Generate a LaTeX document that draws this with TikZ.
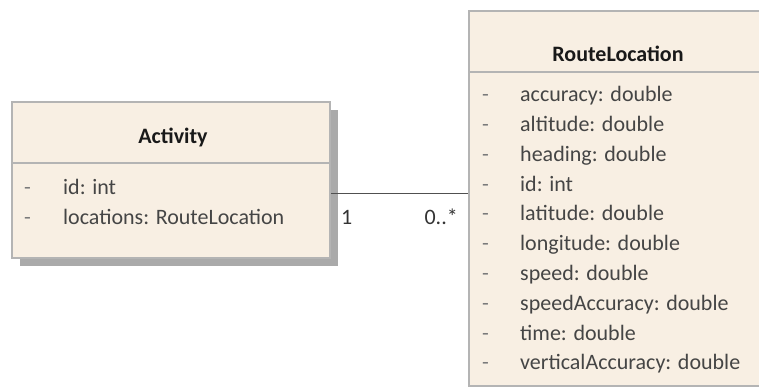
\documentclass[tikz,border=0pt]{standalone}
\usepackage{fontspec}
\setmainfont{Carlito}
\definecolor{boxfill}{HTML}{F8EFE3}
\definecolor{boxline}{HTML}{B4B4B4}
\definecolor{shadowgray}{HTML}{AAAAAA}
\definecolor{attrtext}{HTML}{454545}
\definecolor{dashgray}{HTML}{7A7A7A}
\definecolor{assocline}{HTML}{505050}
\begin{document}
\begin{tikzpicture}[x=1pt,y=-1pt,
  classbox/.style={draw=boxline, line width=1.6pt, fill=boxfill, rectangle, inner sep=0pt},
  divider/.style={draw=boxline, line width=1.6pt},
  classname/.style={anchor=base, inner sep=0pt, text=black!90, font=\fontsize{22}{26}\selectfont\bfseries},
  attr/.style={anchor=base west, inner sep=0pt, text=attrtext, font=\fontsize{22}{26}\selectfont},
  vis/.style={anchor=base west, inner sep=0pt, text=dashgray, font=\fontsize{22}{26}\selectfont},
  mult/.style={inner sep=0pt, text=black!80, font=\fontsize{22}{26}\selectfont},
  assoc/.style={draw=assocline, line width=1.4pt}]
\useasboundingbox (0,0) rectangle (759,387);
\clip (0,0) rectangle (759,387);

% Activity class with its drop shadow
\fill[shadowgray] (20,110) rectangle (338,266);
\node[classbox, minimum width=318pt, minimum height=156pt] (activity) at (171,180) {};
\draw[divider] (12,163) -- (330,163);
\node[classname] (activityname) at (173,144) {Activity};
\node[vis] (avis1) at (24,195) {-};
\node[attr] (aattr1) at (63,195) {id: int};
\node[vis] (avis2) at (24,224) {-};
\node[attr] (aattr2) at (63,224) {locations: RouteLocation};

% RouteLocation class
\node[classbox, minimum width=306pt, minimum height=375pt] (route) at (622,198.5) {};
\draw[divider] (469,72) -- (775,72);
\node[classname] (routename) at (618,62) {RouteLocation};
\foreach \txt [count=\i from 0] in {accuracy: double, altitude: double, heading: double,
    id: int, latitude: double, longitude: double, speed: double,
    speedAccuracy: double, time: double, verticalAccuracy: double} {
  \node[vis] (rvis\i) at (482,101.7+29.8*\i) {-};
  \node[attr] (rattr\i) at (520,101.7+29.8*\i) {\txt};
}

% Association between the two classes
\coordinate (linestart) at ([yshift=-13.5pt]activity.east);
\draw[assoc] (linestart) -- (linestart -| route.west);
\node[mult, anchor=base west] (multone) at (341,225) {1};
\node[mult, anchor=base east] (multmany) at (458,225) {0..*};
\end{tikzpicture}
\end{document}
